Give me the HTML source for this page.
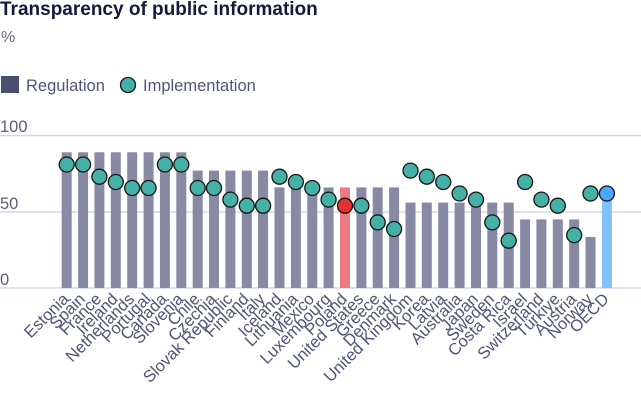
<!DOCTYPE html>
<html><head><meta charset="utf-8"><style>
body{margin:0;background:#fff;}
svg{display:block;font-family:"Liberation Sans",Arial,sans-serif;}
</style></head><body>
<svg width="641" height="401" viewBox="0 0 641 401" xmlns="http://www.w3.org/2000/svg">
<text x="0" y="15" font-size="19" font-weight="bold" fill="#15193a">Transparency of public information</text>
<text x="1" y="42" font-size="16" fill="#666a80">%</text>
<rect x="1" y="76" width="18" height="17" fill="#4a4f72"/>
<text x="26" y="91" font-size="16.5" fill="#50557a">Regulation</text>
<circle cx="128" cy="85" r="7.5" fill="#45b0a5" stroke="#111" stroke-width="1.3"/>
<text x="143" y="91" font-size="16.5" fill="#50557a">Implementation</text>
<g stroke="#d3d8e2" stroke-width="1.5">
<line x1="0" y1="135.5" x2="641" y2="135.5"/>
<line x1="0" y1="212" x2="641" y2="212"/>
<line x1="0" y1="288" x2="641" y2="288"/>
</g>
<g font-size="16.5" fill="#5a5f80">
<text x="0" y="132">100</text>
<text x="0" y="209">50</text>
<text x="0" y="285">0</text>
</g>
<g fill="#878aa2">
<rect x="61.7" y="152.3" width="10" height="135.7"/>
<rect x="78.1" y="152.3" width="10" height="135.7"/>
<rect x="94.4" y="152.3" width="10" height="135.7"/>
<rect x="110.8" y="152.3" width="10" height="135.7"/>
<rect x="127.2" y="152.3" width="10" height="135.7"/>
<rect x="143.6" y="152.3" width="10" height="135.7"/>
<rect x="159.9" y="152.3" width="10" height="135.7"/>
<rect x="176.3" y="152.3" width="10" height="135.7"/>
<rect x="192.7" y="170.6" width="10" height="117.4"/>
<rect x="209.0" y="170.6" width="10" height="117.4"/>
<rect x="225.4" y="170.6" width="10" height="117.4"/>
<rect x="241.8" y="170.6" width="10" height="117.4"/>
<rect x="258.1" y="170.6" width="10" height="117.4"/>
<rect x="274.5" y="187.4" width="10" height="100.6"/>
<rect x="290.9" y="187.4" width="10" height="100.6"/>
<rect x="307.3" y="187.4" width="10" height="100.6"/>
<rect x="323.6" y="187.4" width="10" height="100.6"/>
<rect x="340.0" y="187.4" width="10" height="100.6" fill="#ec7a80"/>
<rect x="356.4" y="187.4" width="10" height="100.6"/>
<rect x="372.7" y="187.4" width="10" height="100.6"/>
<rect x="389.1" y="187.4" width="10" height="100.6"/>
<rect x="405.5" y="202.6" width="10" height="85.4"/>
<rect x="421.8" y="202.6" width="10" height="85.4"/>
<rect x="438.2" y="202.6" width="10" height="85.4"/>
<rect x="454.6" y="202.6" width="10" height="85.4"/>
<rect x="471.0" y="202.6" width="10" height="85.4"/>
<rect x="487.3" y="202.6" width="10" height="85.4"/>
<rect x="503.7" y="202.6" width="10" height="85.4"/>
<rect x="520.1" y="219.4" width="10" height="68.6"/>
<rect x="536.4" y="219.4" width="10" height="68.6"/>
<rect x="552.8" y="219.4" width="10" height="68.6"/>
<rect x="569.2" y="219.4" width="10" height="68.6"/>
<rect x="585.5" y="236.9" width="10" height="51.1"/>
<rect x="601.9" y="187.4" width="10" height="100.6" fill="#80c0ff"/>
</g>
<g fill="#45b0a5" stroke="#151515" stroke-width="1.3">
<circle cx="66.7" cy="164.5" r="7.5"/>
<circle cx="83.1" cy="164.5" r="7.5"/>
<circle cx="99.4" cy="176.7" r="7.5"/>
<circle cx="115.8" cy="182.0" r="7.5"/>
<circle cx="132.2" cy="188.0" r="7.5"/>
<circle cx="148.6" cy="188.0" r="7.5"/>
<circle cx="164.9" cy="164.5" r="7.5"/>
<circle cx="181.3" cy="164.5" r="7.5"/>
<circle cx="197.7" cy="188.0" r="7.5"/>
<circle cx="214.0" cy="188.0" r="7.5"/>
<circle cx="230.4" cy="199.6" r="7.5"/>
<circle cx="246.8" cy="205.7" r="7.5"/>
<circle cx="263.1" cy="205.7" r="7.5"/>
<circle cx="279.5" cy="176.7" r="7.5"/>
<circle cx="295.9" cy="182.0" r="7.5"/>
<circle cx="312.3" cy="188.0" r="7.5"/>
<circle cx="328.6" cy="199.6" r="7.5"/>
<circle cx="345.0" cy="205.7" r="7.5" fill="#e33030"/>
<circle cx="361.4" cy="205.7" r="7.5"/>
<circle cx="377.7" cy="222.4" r="7.5"/>
<circle cx="394.1" cy="229.0" r="7.5"/>
<circle cx="410.5" cy="170.6" r="7.5"/>
<circle cx="426.8" cy="176.7" r="7.5"/>
<circle cx="443.2" cy="182.0" r="7.5"/>
<circle cx="459.6" cy="193.5" r="7.5"/>
<circle cx="476.0" cy="199.6" r="7.5"/>
<circle cx="492.3" cy="222.4" r="7.5"/>
<circle cx="508.7" cy="240.7" r="7.5"/>
<circle cx="525.1" cy="182.0" r="7.5"/>
<circle cx="541.4" cy="199.6" r="7.5"/>
<circle cx="557.8" cy="205.7" r="7.5"/>
<circle cx="574.2" cy="235.1" r="7.5"/>
<circle cx="590.5" cy="193.5" r="7.5"/>
<circle cx="606.9" cy="193.5" r="7.5" fill="#4aa6ff"/>
</g>
<g font-size="16.5" fill="#4f5478" text-anchor="end">
<text transform="translate(69.7 300) rotate(-45)">Estonia</text>
<text transform="translate(86.1 300) rotate(-45)">Spain</text>
<text transform="translate(102.4 300) rotate(-45)">France</text>
<text transform="translate(118.8 300) rotate(-45)">Ireland</text>
<text transform="translate(135.2 300) rotate(-45)">Netherlands</text>
<text transform="translate(151.6 300) rotate(-45)">Portugal</text>
<text transform="translate(167.9 300) rotate(-45)">Canada</text>
<text transform="translate(184.3 300) rotate(-45)">Slovenia</text>
<text transform="translate(200.7 300) rotate(-45)">Chile</text>
<text transform="translate(217.0 300) rotate(-45)">Czechia</text>
<text transform="translate(233.4 300) rotate(-45)">Slovak Republic</text>
<text transform="translate(249.8 300) rotate(-45)">Finland</text>
<text transform="translate(266.1 300) rotate(-45)">Italy</text>
<text transform="translate(282.5 300) rotate(-45)">Iceland</text>
<text transform="translate(298.9 300) rotate(-45)">Lithuania</text>
<text transform="translate(315.3 300) rotate(-45)">Mexico</text>
<text transform="translate(331.6 300) rotate(-45)">Luxembourg</text>
<text transform="translate(348.0 300) rotate(-45)">Poland</text>
<text transform="translate(364.4 300) rotate(-45)">United States</text>
<text transform="translate(380.7 300) rotate(-45)">Greece</text>
<text transform="translate(397.1 300) rotate(-45)">Denmark</text>
<text transform="translate(413.5 300) rotate(-45)">United Kingdom</text>
<text transform="translate(429.8 300) rotate(-45)">Korea</text>
<text transform="translate(446.2 300) rotate(-45)">Latvia</text>
<text transform="translate(462.6 300) rotate(-45)">Australia</text>
<text transform="translate(479.0 300) rotate(-45)">Japan</text>
<text transform="translate(495.3 300) rotate(-45)">Sweden</text>
<text transform="translate(511.7 300) rotate(-45)">Costa Rica</text>
<text transform="translate(528.1 300) rotate(-45)">Israel</text>
<text transform="translate(544.4 300) rotate(-45)">Switzerland</text>
<text transform="translate(560.8 300) rotate(-45)">Türkiye</text>
<text transform="translate(577.2 300) rotate(-45)">Austria</text>
<text transform="translate(593.5 300) rotate(-45)">Norway</text>
<text transform="translate(609.9 300) rotate(-45)">OECD</text>
</g>
</svg>
</body></html>
